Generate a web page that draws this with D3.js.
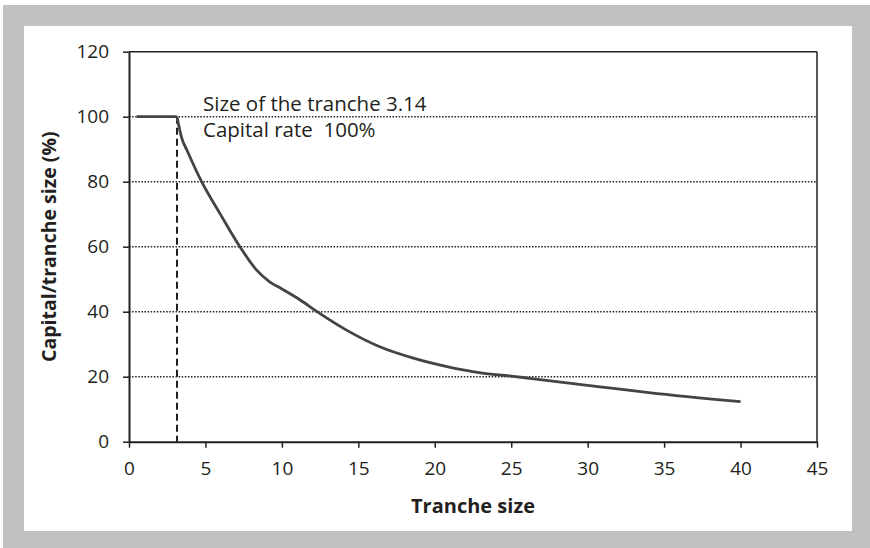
<!DOCTYPE html>
<html><head><meta charset="utf-8">
<script src="https://cdn.jsdelivr.net/npm/d3@7/dist/d3.min.js"></script>
<style>
html,body{margin:0;padding:0;background:#fff;}
svg{display:block;}
text{font-family:"Open Sans",sans-serif;fill:#231f20;}
</style></head>
<body>
<svg id="chart" width="870" height="548"></svg>
<script>
// ---- data ----
const trancheSize = [0.5, 3.14, 3.45, 3.8, 4.75, 6.0, 7.25, 8.35, 9.2, 10.0, 11.2, 12.3, 14.2, 16.4, 18.6, 20.8, 23.0, 25.0, 26.2, 30.8, 34.0, 40.0];
const capitalRate = [100, 100, 93.4, 89.6, 80, 69.8, 60, 52.8, 49.2, 47.0, 43.6, 40, 34.4, 29.2, 25.7, 23.1, 21.2, 20.2, 19.5, 16.9, 15.1, 12.3];
const xTicks = [0, 5, 10, 15, 20, 25, 30, 35, 40, 45];
const yTicks = [0, 20, 40, 60, 80, 100, 120];
const gridValues = [20, 40, 60, 80, 100];
const markerX = 3.14;
const markerY = 100;
const annotationLines = ["Size of the tranche 3.14", "Capital rate  100%"];
const xTitle = "Tranche size";
const yTitle = "Capital/tranche size (%)";

// ---- layout ----
const svg = d3.select("#chart");
const W = 870, H = 548;
svg.append("rect").attr("x",3).attr("y",5).attr("width",W-3).attr("height",H-5).attr("fill","#c0c1c3");
svg.append("rect").attr("x",24).attr("y",26).attr("width",828).attr("height",505).attr("fill","#ffffff");

const pL = 129, pR = 817, pT = 51.7, pB = 441.7;
const x = d3.scaleLinear().domain([0,45]).range([pL,pR]);
const y = d3.scaleLinear().domain([0,120]).range([pB,pT]);
const ink = "#231f20";

// gridlines
svg.append("g").selectAll("line").data(gridValues).join("line")
  .attr("x1",pL).attr("x2",pR)
  .attr("y1",d=>y(d)).attr("y2",d=>y(d))
  .attr("stroke",ink).attr("stroke-width",1.6).attr("stroke-dasharray","1.5,1.6");

// frame top & right
svg.append("line").attr("x1",pL).attr("x2",pR).attr("y1",pT).attr("y2",pT).attr("stroke",ink).attr("stroke-width",1.5);
svg.append("line").attr("x1",pR).attr("x2",pR).attr("y1",pT).attr("y2",pB).attr("stroke",ink).attr("stroke-width",1.5);

// axes
const xAxis = svg.append("g").attr("transform",`translate(0,${pB})`)
  .call(d3.axisBottom(x).tickValues(xTicks).tickSize(6).tickPadding(14).tickSizeOuter(0));
const yAxis = svg.append("g").attr("transform",`translate(${pL},0)`)
  .call(d3.axisLeft(y).tickValues(yTicks).tickSize(6).tickPadding(14).tickSizeOuter(0));
[xAxis,yAxis].forEach(g=>{
  g.select(".domain").attr("stroke",ink).attr("stroke-width",2);
  g.selectAll(".tick line").attr("stroke",ink).attr("stroke-width",1.5);
  g.selectAll(".tick text").attr("fill",ink).style("font-size","19px").style("font-family","'Open Sans',sans-serif");
});

// dashed marker line
svg.append("line")
  .attr("x1",x(markerX)).attr("x2",x(markerX))
  .attr("y1",y(markerY)).attr("y2",y(0))
  .attr("stroke",ink).attr("stroke-width",2).attr("stroke-dasharray","7,4");

// curve
const pts = trancheSize.map((d,i)=>[d,capitalRate[i]]);
const kink = trancheSize.indexOf(markerX);
const lineFlat = d3.line().x(d=>x(d[0])).y(d=>y(d[1]));
const lineCurve = d3.line().x(d=>x(d[0])).y(d=>y(d[1])).curve(d3.curveMonotoneX);
svg.append("path").attr("d",lineFlat(pts.slice(0,kink+1)))
  .attr("fill","none").attr("stroke","#444345").attr("stroke-width",2.8);
svg.append("path").attr("d",lineCurve(pts.slice(kink)))
  .attr("fill","none").attr("stroke","#444345").attr("stroke-width",2.8).attr("stroke-linejoin","round");

// annotation
svg.append("g").selectAll("text").data(annotationLines).join("text")
  .attr("x",x(markerX)+26).attr("y",(d,i)=>111+i*26)
  .style("font-size","20.5px").style("white-space","pre").text(d=>d);

// titles
svg.append("text").attr("x",(pL+pR)/2).attr("y",513).attr("text-anchor","middle")
  .style("font-size","20px").style("font-weight","bold").text(xTitle);
svg.append("text").attr("transform",`translate(56,${(pT+pB)/2}) rotate(-90)`).attr("text-anchor","middle")
  .style("font-size","19.5px").style("font-weight","bold").text(yTitle);
</script>
</body></html>
